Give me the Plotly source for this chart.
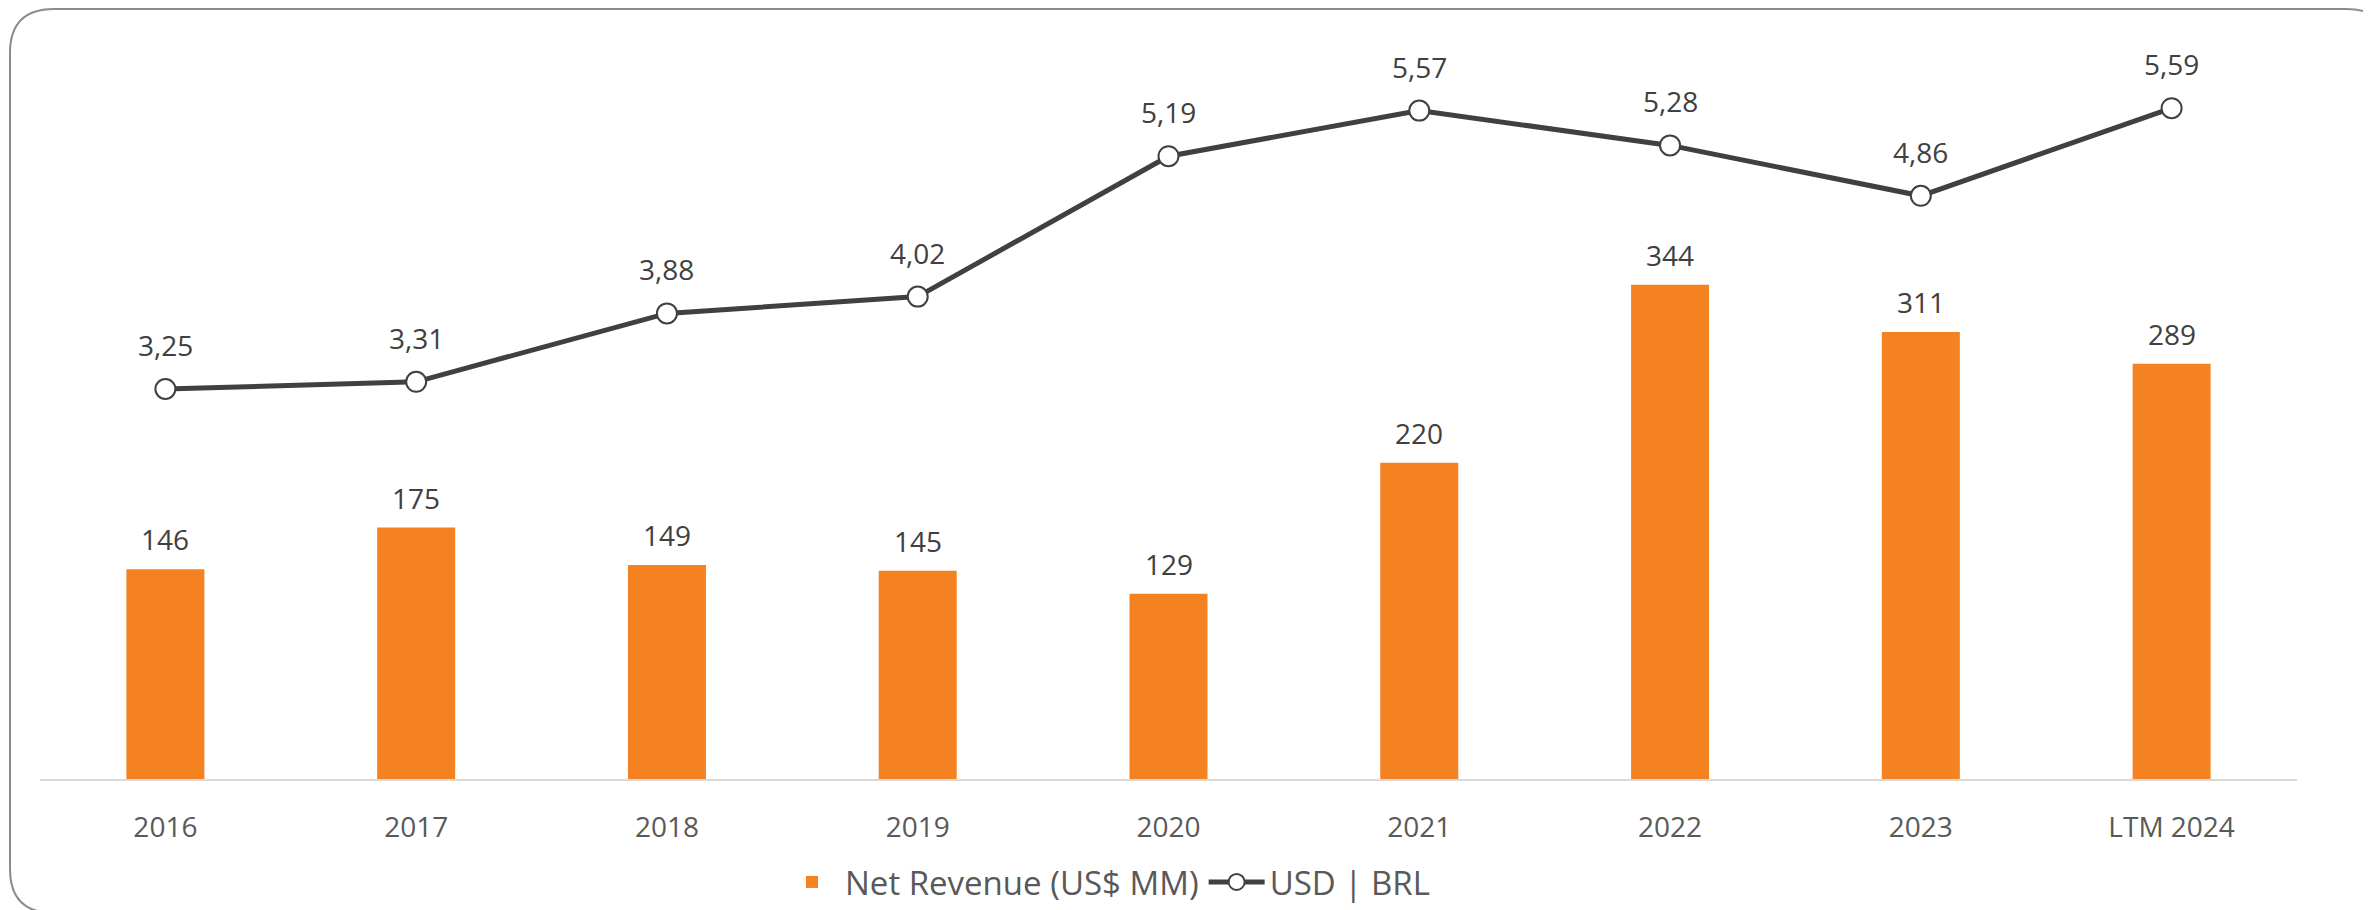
import plotly.graph_objects as go

categories = ["2016", "2017", "2018", "2019", "2020", "2021", "2022", "2023", "LTM 2024"]
net_revenue = [146, 175, 149, 145, 129, 220, 344, 311, 289]
usd_brl = [3.25, 3.31, 3.88, 4.02, 5.19, 5.57, 5.28, 4.86, 5.59]
usd_brl_labels = ["3,25", "3,31", "3,88", "4,02", "5,19", "5,57", "5,28", "4,86", "5,59"]

OFF = 8  # default page body margin
W, H = 2371 - OFF, 910 - OFF
ML, MR, MT, MB = 32, 74, 22, 131
PW, PH = W - ML - MR, H - MT - MB

FONT = "Open Sans"
ORANGE = "#F58220"
DARK = "#404040"
GREY = "#595959"

fig = go.Figure()
fig.add_trace(go.Bar(
    x=categories, y=net_revenue, name="Net Revenue (US$ MM)",
    marker=dict(color=ORANGE, line=dict(width=0)), yaxis="y",
))
fig.add_trace(go.Scatter(
    x=categories, y=usd_brl, name="USD | BRL", mode="lines+markers",
    line=dict(color=DARK, width=5),
    marker=dict(size=20, color="white", line=dict(color=DARK, width=2)),
    yaxis="y2",
))

annotations = []
for i, v in enumerate(net_revenue):
    annotations.append(dict(x=i, y=v, xref="x", yref="y", text=str(v), showarrow=False,
                            yanchor="bottom", yshift=9,
                            font=dict(family=FONT, size=28, color=DARK)))
for i, (v, t) in enumerate(zip(usd_brl, usd_brl_labels)):
    annotations.append(dict(x=i, y=v, xref="x", yref="y2", text=t, showarrow=False,
                            yanchor="bottom", yshift=23,
                            font=dict(family=FONT, size=28, color=DARK)))

def px2paper(x, y):
    # page pixel -> paper coords
    return (x - OFF - ML) / PW, (OFF + H - MB - y) / PH

x0, y0, x1, y1, r = 10, 9, 2390, 913, 44
def P(x, y):
    px, py = px2paper(x, y)
    return f"{px:.5f},{py:.5f}"
path = (f"M {P(x0 + r, y0)} L {P(x1 - r, y0)} Q {P(x1, y0)} {P(x1, y0 + r)} "
        f"L {P(x1, y1 - r)} Q {P(x1, y1)} {P(x1 - r, y1)} "
        f"L {P(x0 + r, y1)} Q {P(x0, y1)} {P(x0, y1 - r)} "
        f"L {P(x0, y0 + r)} Q {P(x0, y0)} {P(x0 + r, y0)} Z")

lx, _ = px2paper(779, 0)
_, ly = px2paper(0, 882)

fig.update_layout(
    width=W, height=H,
    margin=dict(l=ML, r=MR, t=MT, b=MB, autoexpand=False),
    paper_bgcolor="white", plot_bgcolor="white",
    bargap=0.689,
    showlegend=True,
    legend=dict(orientation="h", x=lx, xanchor="left", y=ly, yanchor="middle",
                font=dict(family=FONT, size=33, color=GREY),
                itemwidth=56, tracegroupgap=0, bgcolor="rgba(0,0,0,0)"),
    xaxis=dict(type="category", range=[-0.5, len(categories) - 0.5],
               showgrid=False, showline=True, linecolor="#D9D9D9", linewidth=2,
               ticks="", ticklabelstandoff=22,
               tickfont=dict(family=FONT, size=28, color=GREY), zeroline=False),
    yaxis=dict(range=[0, PH / 1.437], visible=False, showgrid=False, zeroline=False),
    yaxis2=dict(range=[0, PH / 120.0], overlaying="y", side="right", visible=False,
                showgrid=False, zeroline=False),
    annotations=annotations,
    shapes=[dict(type="path", xref="paper", yref="paper", path=path,
                 line=dict(color="#8C8C8C", width=2), layer="above")],
)

fig.write_html("out.html")
